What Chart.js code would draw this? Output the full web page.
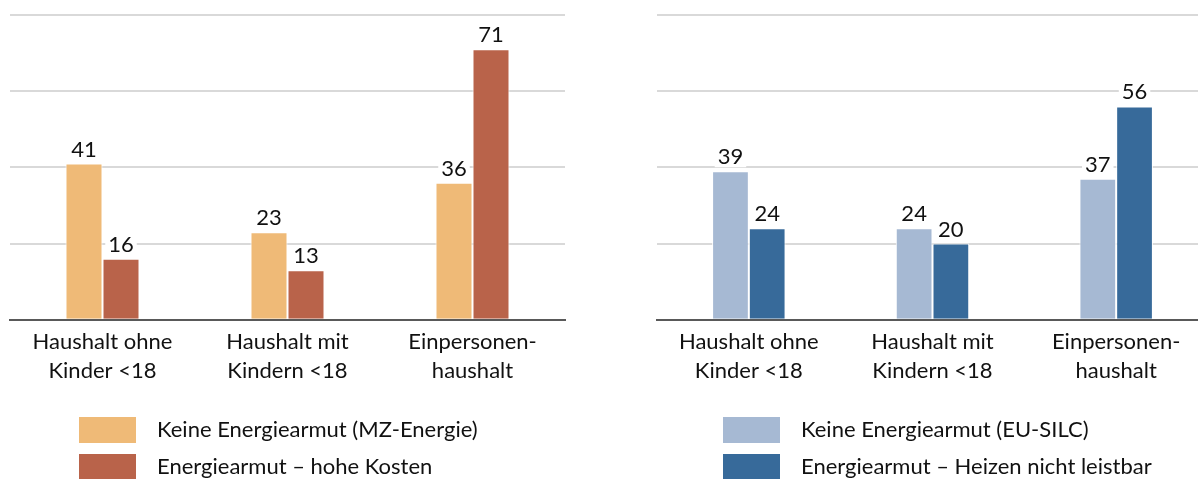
<!DOCTYPE html>
<html lang="de">
<head>
<meta charset="UTF-8">
<title>Energiearmut nach Haushaltstyp</title>
<script src="https://cdn.jsdelivr.net/npm/chart.js@4.4.1/dist/chart.umd.min.js"></script>
<style>
  html, body { margin: 0; padding: 0; background: #fff; overflow: hidden; }
  body { width: 1198px; height: 479px; position: relative; }
  .box { position: absolute; top: 0; height: 479px; }
  #left { left: 0; width: 575px; }
  #right { left: 647px; width: 571px; }
</style>
</head>
<body>
<div class="box" id="left"><canvas id="c1"></canvas></div>
<div class="box" id="right"><canvas id="c2"></canvas></div>

<script>
  const categories = [['Haushalt ohne', 'Kinder <18'], ['Haushalt mit', 'Kindern <18'], ['Einpersonen-', 'haushalt']];

  const mzLabels = ['Keine Energiearmut (MZ-Energie)', 'Energiearmut \u2013 hohe Kosten'];
  const mzNone = [41, 23, 36];
  const mzHighCost = [16, 13, 71];

  const silcLabels = ['Keine Energiearmut (EU-SILC)', 'Energiearmut \u2013 Heizen nicht leistbar'];
  const silcNone = [39, 24, 37];
  const silcHeating = [24, 20, 56];

  const FONT = 'Lato, "Open Sans", sans-serif';
  const TEXT = '#111';

  // numbers above bars, with a white patch so the gridline is cut
  const valueLabels = {
    id: 'valueLabels',
    afterDatasetsDraw(chart) {
      const ctx = chart.ctx;
      ctx.save();
      ctx.font = '22px ' + FONT;
      ctx.textAlign = 'center';
      ctx.textBaseline = 'alphabetic';
      chart.data.datasets.forEach((ds, i) => {
        chart.getDatasetMeta(i).data.forEach((bar, j) => {
          const txt = String(ds.data[j]);
          const w = ctx.measureText(txt).width;
          const y = bar.y - 7;
          ctx.fillStyle = '#fff';
          ctx.fillRect(bar.x - w / 2 - 3, y - 18, w + 6, 21);
          ctx.fillStyle = TEXT;
          ctx.fillText(txt, bar.x, y);
        });
      });
      ctx.restore();
    }
  };

  // legend stacked vertically, boxes left aligned
  const stackedLegend = {
    id: 'stackedLegend',
    afterDraw(chart, args, opts) {
      const ctx = chart.ctx;
      ctx.save();
      ctx.font = '22px ' + FONT;
      ctx.textBaseline = 'middle';
      chart.data.datasets.forEach((ds, i) => {
        const x = chart.chartArea.left + opts.offset;
        const y = opts.top + i * 37;
        ctx.fillStyle = ds.backgroundColor;
        ctx.fillRect(x, y, 57, 26);
        ctx.fillStyle = TEXT;
        ctx.fillText(ds.label, x + 78, y + 13);
      });
      ctx.restore();
    }
  };

  function makeChart(el, labels, a, b, colA, colB, offset) {
    return new Chart(document.getElementById(el), {
      type: 'bar',
      data: {
        labels: categories,
        datasets: [
          { label: labels[0], data: a, backgroundColor: colA, borderColor: '#fff', borderWidth: 1, borderSkipped: 'bottom' },
          { label: labels[1], data: b, backgroundColor: colB, borderColor: '#fff', borderWidth: 1, borderSkipped: 'bottom' }
        ]
      },
      options: {
        responsive: true,
        maintainAspectRatio: false,
        animation: false,
        datasets: { bar: { categoryPercentage: 0.4, barPercentage: 1 } },
        layout: { padding: { top: 15, left: 10, right: 10, bottom: 94 } },
        plugins: {
          legend: { display: false },
          tooltip: { enabled: false },
          stackedLegend: { offset: offset, top: 417 }
        },
        scales: {
          x: {
            grid: { display: false },
            border: { color: '#595959', width: 2 },
            ticks: { color: TEXT, padding: 0, font: { family: FONT, size: 22, lineHeight: 1.3 }, maxRotation: 0 }
          },
          y: {
            min: 0, max: 80,
            ticks: { display: false, stepSize: 20 },
            grid: { color: '#d9d9d9', lineWidth: 2, drawTicks: false },
            border: { display: false }
          }
        }
      },
      plugins: [valueLabels, stackedLegend]
    });
  }

  makeChart('c1', mzLabels, mzNone, mzHighCost, '#efba77', '#b9634a', 69);
  makeChart('c2', silcLabels, silcNone, silcHeating, '#a6b9d3', '#376a9a', 66);
</script>
</body>
</html>
